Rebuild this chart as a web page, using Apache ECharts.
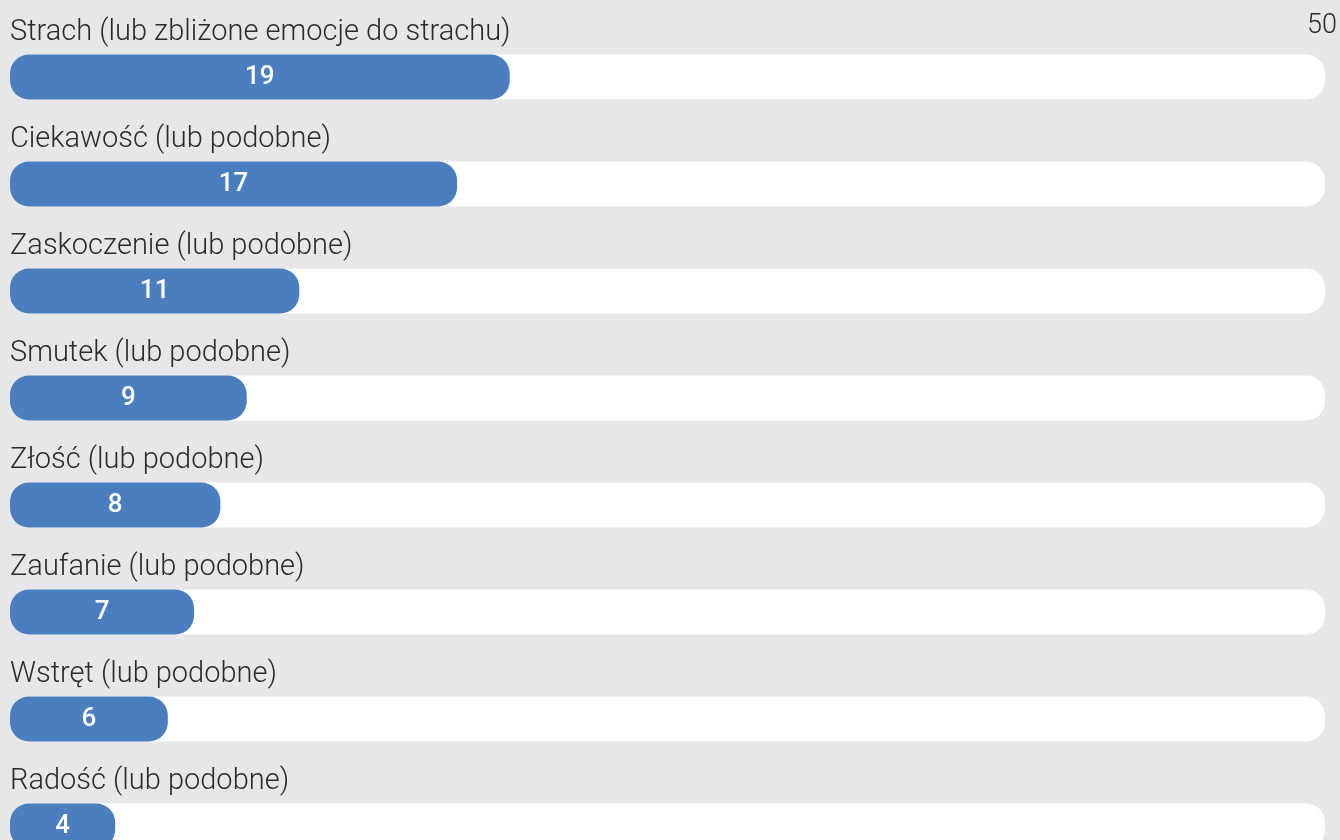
<!DOCTYPE html>
<html>
<head>
<meta charset="utf-8">
<script src="https://cdn.jsdelivr.net/npm/echarts@6/dist/echarts.min.js"></script>
<style>
html,body{margin:0;padding:0;background:#e6e7e9;}
#chart{width:1340px;height:840px;}
</style>
</head>
<body>
<div id="chart"></div>
<script>
const categories = [
  'Strach (lub zbliżone emocje do strachu)',
  'Ciekawość (lub podobne)',
  'Zaskoczenie (lub podobne)',
  'Smutek (lub podobne)',
  'Złość (lub podobne)',
  'Zaufanie (lub podobne)',
  'Wstręt (lub podobne)',
  'Radość (lub podobne)'
];
const values = [19, 17, 11, 9, 8, 7, 6, 4];
const axisMax = 50;

const FONT = "Roboto, 'Noto Sans', sans-serif";
const chart = echarts.init(document.getElementById('chart'));
chart.setOption({
  backgroundColor: '#e6e7e9',
  animation: false,
  grid: { left: 10, right: 15, top: 23.5, bottom: -39.5, containLabel: false, outerBoundsMode: 'none' },
  xAxis: {
    type: 'value', position: 'top', min: 0, max: axisMax, interval: axisMax,
    splitLine: { show: false }, axisLine: { show: false }, axisTick: { show: false },
    axisLabel: { showMinLabel: false, margin: -3, padding: [0, 6, 0, 0], fontSize: 27, fontWeight: 300, color: '#2b2b2b', fontFamily: FONT, verticalAlign: 'middle' }
  },
  yAxis: {
    type: 'category', inverse: true, data: categories,
    axisLine: { show: false }, axisTick: { show: false }, axisLabel: { show: false }
  },
  series: [{
    type: 'bar', data: categories.map(() => axisMax), barWidth: 45, barGap: '-100%',
    silent: true,
    itemStyle: { color: '#ffffff', borderRadius: 19 },
    label: {
      show: true, position: [0, -36], align: 'left', verticalAlign: 'top',
      formatter: p => p.name, fontSize: 29, fontWeight: 300, color: '#2b2b2b', fontFamily: FONT
    }
  }, {
    type: 'bar', data: values, barWidth: 45, barGap: '-100%',
    itemStyle: { color: '#4a7ebf', borderRadius: 19 },
    label: { show: true, position: 'inside', color: '#fff', fontSize: 26, fontWeight: 500, fontFamily: FONT }
  }]
});
</script>
</body>
</html>
